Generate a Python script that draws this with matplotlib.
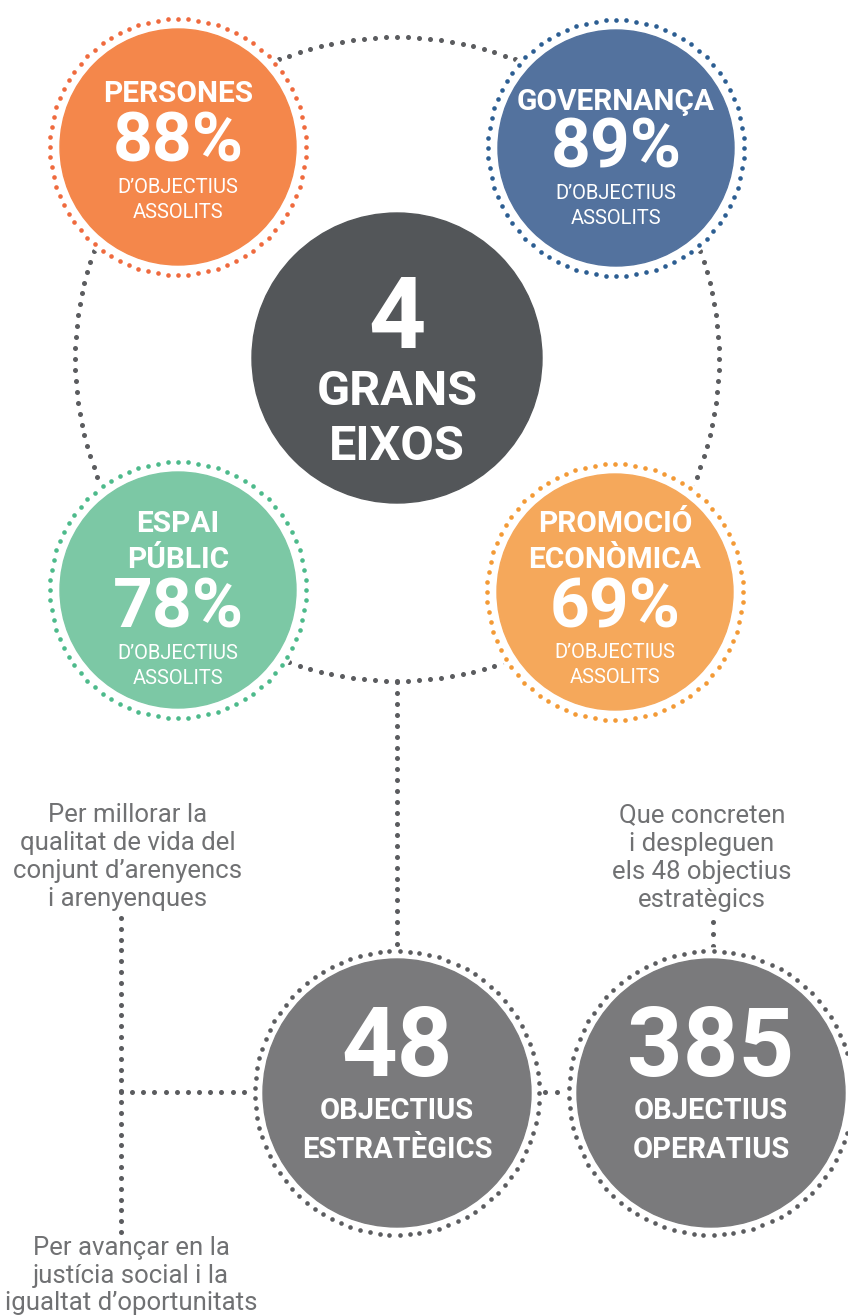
import numpy as np
import matplotlib
matplotlib.use("Agg")
import matplotlib.pyplot as plt
from matplotlib.patches import Circle

# dades
eixos = ["PERSONES", "GOVERNANÇA", "ESPAI\nPÚBLIC", "PROMOCIÓ\nECONÒMICA"]
assolits = [88, 89, 78, 69]
subtitol = ["D’OBJECTIUS", "ASSOLITS"]
num_eixos = 4
obj_estrategics = 48
obj_operatius = 385
nota_millorar = ["Per millorar la", "qualitat de vida del", "conjunt d’arenyencs", "i arenyenques"]
nota_avancar = ["Per avançar en la", "justícia social i la", "igualtat d’oportunitats"]
nota_operatius = ["Que concreten", "i despleguen", "els 48 objectius", "estratègics"]

# colors i posicions (en píxels)
W, H = 848, 1316
colors_fons = ["#F4874B", "#53729E", "#7CC8A5", "#F5A85B"]
colors_punts = ["#EF6A3E", "#2C5E92", "#4DBA8B", "#F39A36"]
centres = [(178, 147), (616, 148), (178, 590), (615, 592)]
title_base = [-45, -38, -58, -60]   # baseline de la primera línia del títol
pct_base = [15, 20, 38, 35]
GRIS_PUNTS = "#5B5C5F"
GRIS_TEXT = "#707173"
GRIS_CERCLE = "#7A7A7C"
FOSC = "#535659"

plt.rcParams["font.family"] = ["Roboto", "DejaVu Sans"]

fig = plt.figure(figsize=(W / 100, H / 100), dpi=100)
ax = fig.add_axes([0, 0, 1, 1])
ax.set_xlim(0, W)
ax.set_ylim(H, 0)
ax.set_aspect("equal")
ax.axis("off")


def punts_cercle(cx, cy, r, color, pas=10, mida=11, z=4):
    n = int(round(2 * np.pi * r / pas))
    t = np.linspace(0, 2 * np.pi, n, endpoint=False)
    ax.scatter(cx + r * np.cos(t), cy + r * np.sin(t), s=mida, color=color,
               linewidths=0, zorder=z)


def punts_linia(x0, y0, x1, y1, pas=11, mida=13):
    n = int(round(np.hypot(x1 - x0, y1 - y0) / pas)) + 1
    ax.scatter(np.linspace(x0, x1, n), np.linspace(y0, y1, n), s=mida,
               color=GRIS_PUNTS, linewidths=0, zorder=1)


# connectors grisos
punts_cercle(397, 359, 322, GRIS_PUNTS, pas=11, mida=13, z=1)
punts_linia(397, 682, 397, 955)
punts_linia(121, 918, 121, 1232)
punts_linia(121, 1092, 400, 1092)
punts_linia(400, 1092, 713, 1092)
punts_linia(713, 922, 713, 958)

# cercles dels eixos
for i, nom in enumerate(eixos):
    cx, cy = centres[i]
    ax.add_patch(Circle((cx, cy), 132, color="white", zorder=2))
    ax.add_patch(Circle((cx, cy), 118, color=colors_fons[i], zorder=3))
    punts_cercle(cx, cy, 128, colors_punts[i], pas=10, mida=11)
    linies = nom.split("\n")
    for j, l in enumerate(linies):
        ax.text(cx, cy + title_base[i] + 36 * j, l, ha="center", va="baseline",
                color="white", fontsize=21.5, fontweight="bold", zorder=5)
    ax.text(cx, cy + pct_base[i], f"{assolits[i]}%", ha="center", va="baseline",
            color="white", fontsize=50, fontweight="bold", zorder=5)
    for j, l in enumerate(subtitol):
        ax.text(cx, cy + pct_base[i] + 31 + 25 * j, l, ha="center", va="baseline",
                color="white", fontsize=14.5, zorder=5)

# cercle central
ax.add_patch(Circle((397, 358), 145, color=FOSC, zorder=3))
ax.text(397, 348, str(num_eixos), ha="center", va="baseline", color="white",
        fontsize=72, fontweight="bold", zorder=5)
ax.text(397, 405, "GRANS", ha="center", va="baseline", color="white",
        fontsize=35, fontweight="bold", zorder=5)
ax.text(397, 460, "EIXOS", ha="center", va="baseline", color="white",
        fontsize=35, fontweight="bold", zorder=5)

# cercles d'objectius
for cx, num, l1, l2 in [(397, obj_estrategics, "OBJECTIUS", "ESTRATÈGICS"),
                        (711, obj_operatius, "OBJECTIUS", "OPERATIUS")]:
    cy = 1093
    ax.add_patch(Circle((cx, cy), 145, color="white", zorder=2))
    ax.add_patch(Circle((cx, cy), 134, color=GRIS_CERCLE, zorder=3))
    punts_cercle(cx, cy, 142, GRIS_PUNTS, pas=10, mida=11)
    ax.text(cx, 1076, str(num), ha="center", va="baseline", color="white",
            fontsize=70, fontweight="bold", zorder=5)
    ax.text(cx, 1119, l1, ha="center", va="baseline", color="white",
            fontsize=21, fontweight="bold", zorder=5)
    ax.text(cx, 1158, l2, ha="center", va="baseline", color="white",
            fontsize=21, fontweight="bold", zorder=5)

# notes
for j, l in enumerate(nota_millorar):
    ax.text(128, 822 + 28 * j, l, ha="center", va="baseline", color=GRIS_TEXT,
            fontsize=18.5)
for j, l in enumerate(nota_avancar):
    ax.text(131, 1255 + 27.5 * j, l, ha="center", va="baseline", color=GRIS_TEXT,
            fontsize=18.5)
for j, l in enumerate(nota_operatius):
    ax.text(702, 822 + 28.5 * j, l, ha="center", va="baseline", color=GRIS_TEXT,
            fontsize=18.5)

fig.savefig("out.png", dpi=100, facecolor="white")
